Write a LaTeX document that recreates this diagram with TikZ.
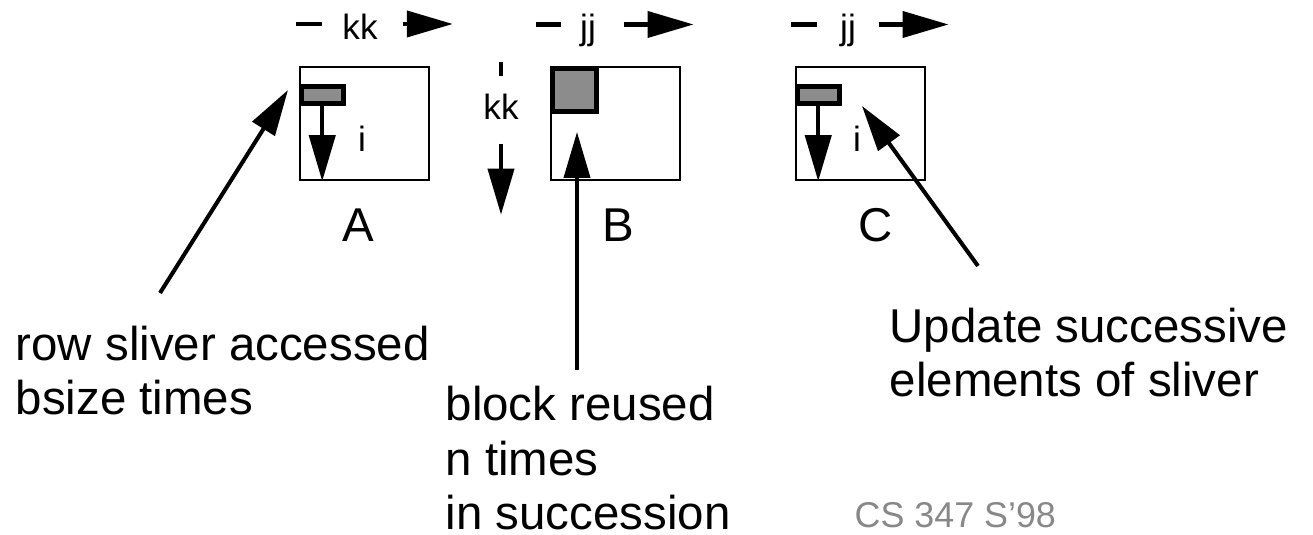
\documentclass[tikz,border=0pt]{standalone}
\usepackage{fontspec}
\setmainfont{Liberation Sans}
\usetikzlibrary{arrows.meta}
\definecolor{sliverfill}{RGB}{140,140,140}
\definecolor{notegray}{RGB}{136,136,136}
\tikzset{
  matbox/.style={draw, line width=0.7pt, inner sep=0, minimum width=1.29cm, minimum height=1.13cm},
  sliver/.style={draw, fill=sliverfill, line width=1.4pt, inner sep=0, anchor=north west},
  bigarrow/.style={-{Triangle[length=0.46cm,width=0.26cm]}, line width=1.15pt},
  idx/.style={inner sep=0, font=\fontsize{10}{12}\selectfont},
  note/.style={inner sep=0, align=left, anchor=base west, font=\fontsize{13.5}{15.6}\selectfont},
}
\begin{document}
\begin{tikzpicture}
\useasboundingbox (0,0) rectangle (13.13,5.35);

% the three matrices
\node[matbox] at (3.645,4.115) (a) {};
\node[matbox] at (6.155,4.115) (b) {};
\node[matbox] at (8.605,4.115) (c) {};

\node[sliver, minimum width=0.42cm, minimum height=0.17cm] at ([yshift=-0.18cm]a.north west) (sa) {};
\node[sliver, minimum width=0.44cm, minimum height=0.43cm] at (b.north west) (sb) {};
\node[sliver, minimum width=0.42cm, minimum height=0.17cm] at ([yshift=-0.18cm]c.north west) (sc) {};

\draw[bigarrow] (sa.south) -- (sa.south |- a.south);
\draw[bigarrow] (sc.south) -- (sc.south |- c.south);

\node[idx, anchor=base] at (3.62,3.83) (ia) {i};
\node[idx, anchor=base] at (8.57,3.83) (ic) {i};

% loop indices over the tops
\node[idx, anchor=base] at (3.60,4.955) (ka) {kk};
\node[idx, anchor=base] at (5.88,4.955) (ja) {jj};
\node[idx, anchor=base] at (8.48,4.955) (jc) {jj};

\draw[line width=1.15pt] ([xshift=-0.455cm,yshift=0.155cm]ka.base west) -- ([xshift=-0.2cm,yshift=0.155cm]ka.base west);
\draw[bigarrow] ([xshift=0.245cm,yshift=0.155cm]ka.base east) -- ([xshift=0.745cm,yshift=0.155cm]ka.base east);
\draw[line width=1.15pt] ([xshift=-0.43cm,yshift=0.15cm]ja.base west) -- ([xshift=-0.18cm,yshift=0.15cm]ja.base west);
\draw[bigarrow] ([xshift=0.27cm,yshift=0.15cm]ja.base east) -- ([xshift=0.97cm,yshift=0.15cm]ja.base east);
\draw[line width=1.15pt] ([xshift=-0.48cm,yshift=0.15cm]jc.base west) -- ([xshift=-0.22cm,yshift=0.15cm]jc.base west);
\draw[bigarrow] ([xshift=0.22cm,yshift=0.15cm]jc.base east) -- ([xshift=0.92cm,yshift=0.15cm]jc.base east);

% kk running down beside B
\node[idx, anchor=base] at (5.01,4.15) (kb) {kk};
\draw[line width=1.15pt] ([yshift=0.175cm]kb.north) -- ([yshift=0.315cm]kb.north);
\draw[bigarrow] ([yshift=-0.23cm]kb.south) -- ([yshift=-0.94cm]kb.south);

% names
\node[inner sep=0, anchor=base, font=\fontsize{13.5}{15.6}\selectfont] at (3.58,2.93) (na) {A};
\node[inner sep=0, anchor=base, font=\fontsize{13.5}{15.6}\selectfont] at (6.18,2.93) (nb) {B};
\node[inner sep=0, anchor=base, font=\fontsize{13.5}{15.6}\selectfont] at (8.76,2.93) (nc) {C};

% notes and pointers (base = last line)
\node[note] at (0.15,1.20) (ra) {row sliver accessed\\bsize times};
\node[note] at (4.45,0.05) (rb) {block reused\\n times\\in succession};
\node[note] at (8.89,1.38) (rc) {Update successive\\elements of sliver};

\coordinate (pa) at (1.60,2.42);
\coordinate (ta) at (2.88,4.45);
\coordinate (pb) at (5.77,1.65);
\coordinate (tb) at (5.77,4.03);
\coordinate (pc) at (9.78,2.69);
\coordinate (tc) at (8.62,4.29);
\draw[bigarrow] (pa) -- (ta);
\draw[bigarrow] (pb) -- (tb);
\draw[bigarrow] (pc) -- (tc);

\node[inner sep=0, anchor=base west, text=notegray, font=\fontsize{10.2}{12}\selectfont] at (8.54,0.07) (cs) {CS 347 S’98};
\end{tikzpicture}
\end{document}
